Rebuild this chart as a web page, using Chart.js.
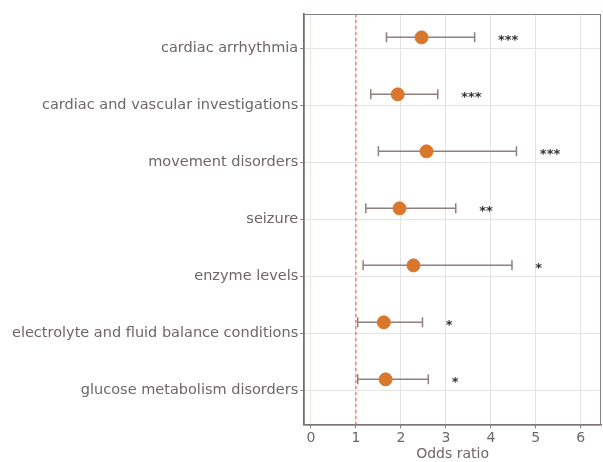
<!DOCTYPE html>
<html>
<head>
<meta charset="utf-8">
<script src="https://cdn.jsdelivr.net/npm/chart.js@4.4.1/dist/chart.umd.min.js"></script>
<style>
  html, body { margin: 0; padding: 0; background: #ffffff; overflow: hidden; }
  canvas { display: block; }
</style>
</head>
<body>
<canvas id="grafica" width="603" height="462"></canvas>
<script>
// datos del forest plot
const categorias = [
    "cardiac arrhythmia",
    "cardiac and vascular investigations",
    "movement disorders",
    "seizure",
    "enzyme levels",
    "electrolyte and fluid balance conditions",
    "glucose metabolism disorders"
];
const oddsRatio = [2.46, 1.93, 2.57, 1.97, 2.28, 1.62, 1.66];
const limInferior = [1.68, 1.33, 1.50, 1.22, 1.16, 1.04, 1.04];
const limSuperior = [3.64, 2.82, 4.57, 3.22, 4.47, 2.48, 2.61];
const significancia = ["***", "***", "***", "**", "*", "*", "*"];
const ticksX = [0, 1, 2, 3, 4, 5, 6];
const lineaReferencia = 1;

const colorTexto = '#6e6666';
const colorPunto = '#d9782d';
const colorBarra = '#8f8080';
const fuente = '"DejaVu Sans", "Liberation Sans", sans-serif';
const desplazamiento = 0.19; // los puntos van un poco arriba de la linea de la categoria

const puntos = oddsRatio.map((v, i) => ({ x: v, y: i - desplazamiento }));

const pluginExtras = {
    id: 'extras',
    beforeDatasetsDraw(chart) {
        const { ctx, chartArea: a, scales: { x, y } } = chart;
        ctx.save();
        // linea de referencia discontinua
        const xr = x.getPixelForValue(lineaReferencia);
        ctx.strokeStyle = '#e07a5f';
        ctx.lineWidth = 1.3;
        ctx.setLineDash([3, 3]);
        ctx.beginPath();
        ctx.moveTo(xr, a.top);
        ctx.lineTo(xr, a.bottom);
        ctx.stroke();
        ctx.setLineDash([]);

        // barras de error
        ctx.strokeStyle = colorBarra;
        ctx.lineWidth = 1.5;
        categorias.forEach((c, i) => {
            const yp = y.getPixelForValue(i - desplazamiento);
            const x1 = x.getPixelForValue(limInferior[i]);
            const x2 = x.getPixelForValue(limSuperior[i]);
            ctx.beginPath();
            ctx.moveTo(x1, yp); ctx.lineTo(x2, yp);
            ctx.moveTo(x1, yp - 5); ctx.lineTo(x1, yp + 5);
            ctx.moveTo(x2, yp - 5); ctx.lineTo(x2, yp + 5);
            ctx.stroke();
        });
        ctx.restore();
    },
    afterDatasetsDraw(chart) {
        const { ctx, chartArea: a, scales: { x, y } } = chart;
        ctx.save();
        // asteriscos
        ctx.fillStyle = '#333333';
        ctx.font = 'bold 13px "DejaVu Sans", sans-serif';
        ctx.textAlign = 'left';
        ctx.textBaseline = 'alphabetic';
        categorias.forEach((c, i) => {
            const yp = y.getPixelForValue(i - desplazamiento) + 7;
            const xp = x.getPixelForValue(limSuperior[i] + 0.52);
            ctx.fillText(significancia[i], xp, yp);
        });
        // marco del panel
        ctx.strokeStyle = '#8a7f7f';
        ctx.lineWidth = 1;
        ctx.strokeRect(a.left, a.top + 0.5, a.right - a.left - 0.5, a.bottom - a.top);
        ctx.restore();
    }
};

new Chart(document.getElementById('grafica'), {
    type: 'scatter',
    data: {
        datasets: [{
            data: puntos,
            backgroundColor: colorPunto,
            borderColor: colorPunto,
            pointRadius: 6.5,
            pointHoverRadius: 6.5
        }]
    },
    options: {
        responsive: false,
        animation: false,
        layout: { autoPadding: false, padding: { top: 14, right: 2, left: 10, bottom: -1 } },
        plugins: {
            legend: { display: false },
            tooltip: { enabled: false }
        },
        scales: {
            x: {
                type: 'linear',
                min: -0.15,
                max: 6.45,
                afterBuildTicks: (s) => { s.ticks = ticksX.map(v => ({ value: v })); },
                ticks: {
                    color: colorTexto,
                    font: { family: fuente, size: 14 },
                    padding: 2
                },
                grid: { color: '#e6e3e3', tickColor: '#8a7f7f', tickLength: 4, lineWidth: 1 },
                border: { color: '#6f6464', width: 1.5 },
                title: {
                    display: true,
                    text: 'Odds ratio',
                    color: colorTexto,
                    font: { family: fuente, size: 14 },
                    padding: { top: -3, bottom: 0 }
                }
            },
            y: {
                type: 'linear',
                reverse: true,
                min: -0.6,
                max: 6.6,
                afterBuildTicks: (s) => { s.ticks = categorias.map((c, i) => ({ value: i })); },
                ticks: {
                    color: colorTexto,
                    font: { family: fuente, size: 14.5 },
                    padding: 2,
                    callback: (v) => categorias[v]
                },
                grid: { color: '#e6e3e3', tickColor: '#8a7f7f', tickLength: 4, lineWidth: 1 },
                border: { color: '#6f6464', width: 1.5 }
            }
        }
    },
    plugins: [pluginExtras]
});
</script>
</body>
</html>
